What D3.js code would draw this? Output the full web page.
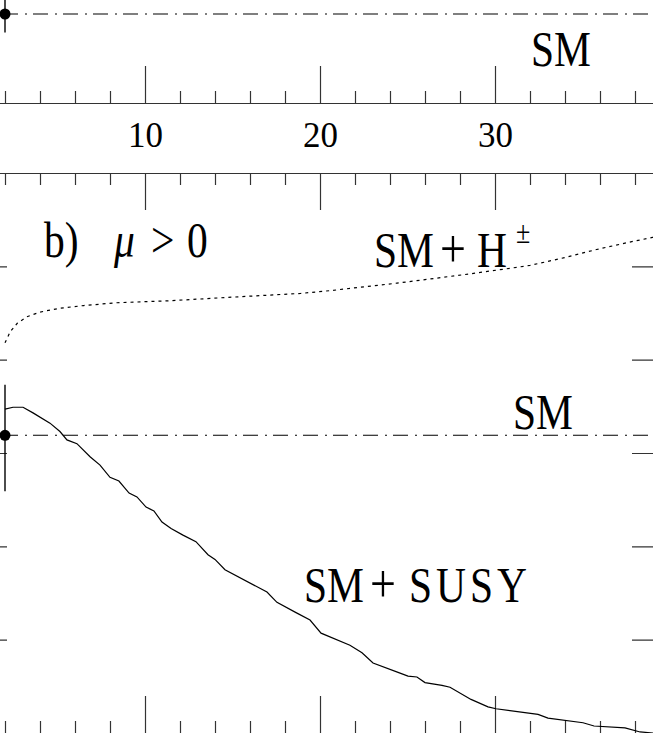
<!DOCTYPE html>
<html>
<head>
<meta charset="utf-8">
<script src="https://cdn.jsdelivr.net/npm/d3@7"></script>
<style>
  body { margin: 0; background: #fff; }
  svg { display: block; }
</style>
</head>
<body>
<script>

"use strict"

var WIDTH = 653;
var HEIGHT = 733;
var FONT = "'Liberation Serif', 'DejaVu Serif', serif";

// x axis (tan beta)
var TICK_MAJOR = [0, 10, 20, 30, 40];
var TICK_LABELS = [10, 20, 30, 40];
var TICK_MINOR = [2, 4, 6, 8, 12, 14, 16, 18, 22, 24, 26, 28, 32, 34, 36, 38];
var TICK_Y_B = [1, 2, 3, 4, 5];

// panel a) : SM reference only visible
var SM_A = 0.957;
var SM_A_ERR = [0.2, 0.2];

// panel b) mu > 0
var SM_B = 3.19;
var SM_B_ERR = [0.60, 0.54];

var TANB_HPM = [2, 2.3, 2.7, 3.25, 4, 5.1, 6.5, 8.4, 11.3, 15, 18.9, 20.6, 24.4, 28.2, 30.9, 32, 33.9, 35.8, 37.7, 39, 40];
var VAL_HPM  = [4.18, 4.30, 4.39, 4.46, 4.51, 4.55, 4.58, 4.61, 4.63, 4.67, 4.71, 4.74, 4.82, 4.91, 4.98, 5.01, 5.09, 5.18, 5.26, 5.31, 5.35];

var TANB_SUSY = [2.0, 2.46, 3.03, 3.6, 4.57, 5.14, 5.54, 6.11, 6.86, 7.43, 8.0, 8.51, 9.09, 9.54, 10.06, 10.51, 10.97, 11.49, 12.17, 12.91,
                 13.6, 14.0, 14.57, 16.97, 17.54, 18.63, 19.43, 20.06, 21.71, 22.4, 23.03, 24.46, 25.03, 25.54, 26.0, 26.97, 27.43, 28.63,
                 29.6, 30.06, 32.46, 33.03, 35.03, 35.66, 37.43, 38.29, 39.03];
var VAL_SUSY  = [3.47, 3.49, 3.49, 3.43, 3.32, 3.23, 3.14, 3.10, 2.96, 2.87, 2.74, 2.70, 2.57, 2.53, 2.42, 2.38, 2.26, 2.19, 2.12, 2.05,
                 1.91, 1.86, 1.75, 1.51, 1.40, 1.29, 1.21, 1.07, 0.94, 0.86, 0.75, 0.65, 0.61, 0.60, 0.54, 0.51, 0.49, 0.36,
                 0.28, 0.26, 0.20, 0.16, 0.11, 0.075, 0.054, 0.011, 0.0];

var svg = d3.select("body").append("svg")
    .attr("width", WIDTH)
    .attr("height", HEIGHT);

var x = d3.scaleLinear().domain([0, 40]).range([-30, 670]);
var yA = d3.scaleLinear().domain([0, 1]).range([103, 10]);
var yB = d3.scaleLinear().domain([0, 6]).range([733, 173]);

var AXIS_COLOR = "#333";

function styleAxis(g) {
    g.attr("color", AXIS_COLOR);
    g.selectAll("path, line").attr("stroke-width", 1.2);
    g.selectAll("text")
        .attr("fill", "#000")
        .attr("font-family", FONT)
        .attr("font-size", 35);
}

// horizontal axis with long major and short minor ticks
function xAxis(gen, y, labels) {

    var g = svg.append("g").attr("transform", "translate(0," + y + ")");

    g.append("g").call(gen(x).tickValues(TICK_MAJOR).tickSize(-37).tickSizeOuter(0).tickFormat(""));
    g.append("g").call(gen(x).tickValues(TICK_MINOR).tickSize(-12).tickSizeOuter(0).tickFormat(""));

    if (labels) {
        g.append("g").call(gen(x).tickValues(TICK_LABELS).tickSize(0).tickSizeOuter(0)
            .tickPadding(19).tickFormat(d3.format("d")))
         .select(".domain").remove();
    }

    styleAxis(g);
    g.selectAll(".domain").filter(function(d, i) { return i > 0; }).remove();

}

xAxis(d3.axisBottom, 103, true);
xAxis(d3.axisTop, 173, false);
xAxis(d3.axisBottom, 733, false);

var yl = svg.append("g").attr("transform", "translate(" + x(0) + ",0)")
    .call(d3.axisLeft(yB).tickValues(TICK_Y_B).tickSize(-37).tickSizeOuter(0).tickFormat(""));
styleAxis(yl);
var yr = svg.append("g").attr("transform", "translate(" + x(40) + ",0)")
    .call(d3.axisRight(yB).tickValues(TICK_Y_B).tickSize(-38).tickSizeOuter(0).tickFormat(""));
styleAxis(yr);

// clip panel b curves to the frame
svg.append("clipPath").attr("id", "clipB")
    .append("rect")
    .attr("x", x(0)).attr("y", yB(6))
    .attr("width", x(40) - x(0)).attr("height", yB(0) - yB(6));

var lineB = d3.line()
    .x(function(d) { return x(d[0]); })
    .y(function(d) { return yB(d[1]); });

var curves = svg.append("g").attr("clip-path", "url(#clipB)");

curves.append("path")
    .datum(d3.zip(TANB_HPM, VAL_HPM))
    .attr("d", lineB)
    .attr("fill", "none")
    .attr("stroke", "#000")
    .attr("stroke-width", 1.2)
    .attr("stroke-dasharray", "3,4");

curves.append("path")
    .datum(d3.zip(TANB_SUSY, VAL_SUSY))
    .attr("d", lineB)
    .attr("fill", "none")
    .attr("stroke", "#000")
    .attr("stroke-width", 1.2);

// SM reference: dash-dot line, point and error bar
function smLine(y, value, err) {

    svg.append("line")
        .attr("x1", x(2)).attr("x2", x(40))
        .attr("y1", y(value)).attr("y2", y(value))
        .attr("stroke", "#000")
        .attr("stroke-width", 1.2)
        .attr("stroke-dasharray", "15,7,2,6")
        .attr("stroke-dashoffset", 2);

    svg.append("line")
        .attr("x1", x(2)).attr("x2", x(2))
        .attr("y1", y(value - err[0])).attr("y2", y(value + err[1]))
        .attr("stroke", "#000")
        .attr("stroke-width", 1.4);

    svg.append("circle")
        .attr("cx", x(2)).attr("cy", y(value))
        .attr("r", 5.5)
        .attr("fill", "#000");

}

smLine(yA, SM_A, SM_A_ERR);
smLine(yB, SM_B, SM_B_ERR);

// text labels (slightly tall serif, as in the original)
function label(parts, px, py) {

    var t = svg.append("text")
        .attr("transform", "translate(" + px + "," + py + ") scale(1,1.2)")
        .attr("font-family", FONT)
        .attr("font-size", 41.5)
        .attr("fill", "#000");

    parts.forEach(function(p) {
        var s = t.append("tspan").attr("x", p.dx).text(p.text);
        if (p.size) { s.attr("font-size", p.size); }
        if (p.italic) { s.attr("font-style", "italic"); }
        if (p.dy) { s.attr("y", p.dy); } else { s.attr("y", 0); }
        if (p.len) { s.attr("textLength", p.len).attr("lengthAdjust", "spacing"); }
    });

}

label([{text: "SM", dx: 0}], 531, 66);
label([{text: "SM", dx: 0}], 513, 429);
label([{text: "b)", dx: 0}, {text: "\u03BC", dx: 70, italic: true}, {text: ">", dx: 107}, {text: "0", dx: 143}], 44, 257);
label([{text: "SM", dx: 0}, {text: "+", dx: 66, size: 46}, {text: "H", dx: 103},
       {text: "\u00B1", dx: 142, size: 26, dy: -20}], 374, 267);
label([{text: "SM", dx: 0}, {text: "+", dx: 66, size: 46}, {text: "SUSY", dx: 105, len: 118}], 304, 602);

</script>
</body>
</html>
